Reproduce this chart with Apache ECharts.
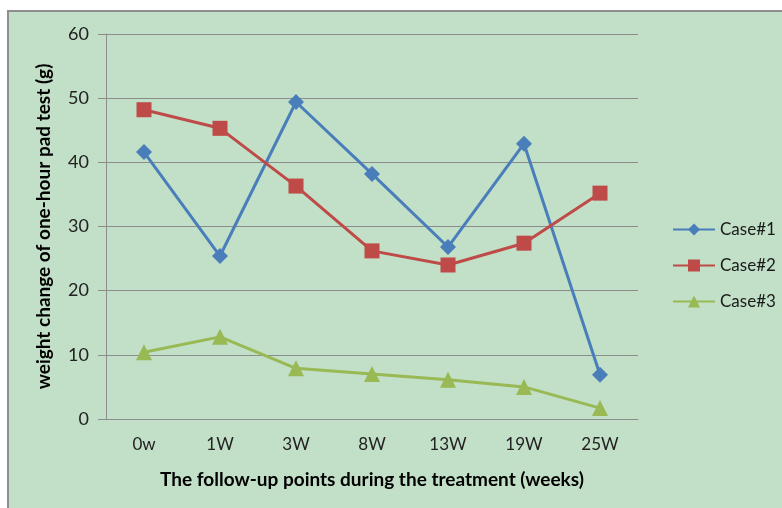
<!DOCTYPE html>
<html>
<head>
<meta charset="utf-8">
<script src="https://cdn.jsdelivr.net/npm/echarts@6/dist/echarts.min.js"></script>
<style>
    html, body { margin: 0; padding: 0; background: #ffffff; }
    #chart { width: 782px; height: 508px; }
</style>
</head>
<body>
<div id="chart"></div>
<script>
var categories = ['0w', '1W', '3W', '8W', '13W', '19W', '25W'];
var case1 = [41.6, 25.4, 49.4, 38.2, 26.8, 42.9, 6.9];
var case2 = [48.2, 45.3, 36.3, 26.2, 24.0, 27.4, 35.2];
var case3 = [10.4, 12.8, 7.9, 7.0, 6.1, 5.0, 1.7];
var yTicks = [0, 10, 20, 30, 40, 50, 60];

var font = 'Lato, "Open Sans", sans-serif';

function makeSeries(name, data, color, symbol, size) {
    return {
        name: name,
        type: 'line',
        data: data,
        symbol: symbol,
        symbolSize: size,
        lineStyle: { color: color, width: 3 },
        itemStyle: { color: color },
        emphasis: { disabled: true },
        animation: false
    };
}

var option = {
    animation: false,
    graphic: [{
        type: 'rect',
        z: -10,
        silent: true,
        shape: { x: 8, y: 11, width: 800, height: 520 },
        style: { fill: '#c2dfc7', stroke: '#8e8e8e', lineWidth: 2 }
    }],
    grid: { left: 106, right: 144, top: 34, bottom: 89 },
    legend: {
        orient: 'vertical',
        left: 667,
        top: 216,
        itemWidth: 42,
        itemHeight: 15,
        itemGap: 19,
        textStyle: { fontFamily: font, fontSize: 17, color: '#1a1a1a' },
        data: ['Case#1', 'Case#2', 'Case#3']
    },
    xAxis: {
        type: 'category',
        data: categories,
        boundaryGap: true,
        name: 'The follow-up points during the treatment (weeks)',
        nameLocation: 'middle',
        nameGap: 51,
        nameTextStyle: { fontFamily: font, fontSize: 19, fontWeight: 'bold', color: '#000' },
        axisLine: { lineStyle: { color: '#8c8c8c', width: 1 } },
        axisTick: { alignWithLabel: false, length: 8, lineStyle: { color: '#8c8c8c' } },
        axisLabel: { fontFamily: font, fontSize: 17, color: '#222', margin: 17 }
    },
    yAxis: {
        type: 'value',
        min: yTicks[0],
        max: yTicks[yTicks.length - 1],
        interval: 10,
        name: 'weight change of one-hour pad test (g)',
        nameLocation: 'middle',
        nameGap: 53,
        nameTextStyle: { fontFamily: font, fontSize: 19, fontWeight: 'bold', color: '#000' },
        axisLine: { show: true, lineStyle: { color: '#8c8c8c', width: 1 } },
        axisTick: { show: true, length: 8, lineStyle: { color: '#8c8c8c' } },
        axisLabel: { fontFamily: font, fontSize: 18, color: '#222', margin: 17 },
        splitLine: { lineStyle: { color: '#8c8c8c', width: 1 } }
    },
    series: [
        makeSeries('Case#1', case1, '#4a7ebb', 'diamond', 16),
        makeSeries('Case#2', case2, '#be4b48', 'rect', 15),
        makeSeries('Case#3', case3, '#98b954', 'triangle', 16)
    ]
};

echarts.init(document.getElementById('chart')).setOption(option);
</script>
</body>
</html>
